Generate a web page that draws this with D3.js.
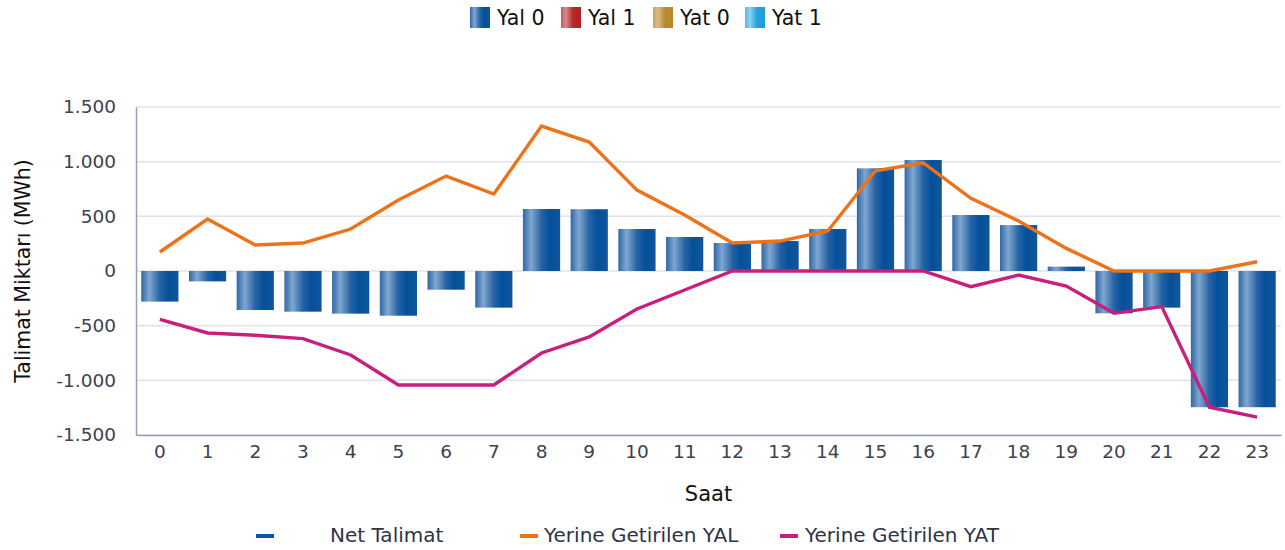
<!DOCTYPE html>
<html>
<head>
<meta charset="utf-8">
<script src="https://cdn.jsdelivr.net/npm/d3@7"></script>
<style>
  body { margin: 0; background: #fff; }
  svg { display: block; }
</style>
</head>
<body>
<svg></svg>
<script>
var w = 1285,
    h = 550;

// hours 0..23
var hours = d3.range(0, 24).map(String);

// Net Talimat (bars)
var netTalimat = [-280, -95, -357, -372, -390, -409, -171, -335, 567, 565, 384, 311,
                  256, 274, 384, 939, 1015, 512, 420, 40, -387, -335, -1246, -1246];

// Yerine Getirilen YAL (orange line)
var yal = [174, 475, 238, 256, 384, 649, 868, 704, 1325, 1179, 740, 512,
           256, 274, 366, 917, 990, 664, 457, 207, 0, 0, 0, 85];

// Yerine Getirilen YAT (magenta line)
var yat = [-442, -567, -588, -619, -768, -1042, -1042, -1042, -750, -603, -347, -174,
           0, 0, 0, 0, 0, -143, -37, -137, -387, -326, -1246, -1337];

var yTicks = [-1500, -1000, -500, 0, 500, 1000, 1500];

var topLegend = ["Yal 0", "Yal 1", "Yat 0", "Yat 1"];
var bottomLegend = ["Net Talimat", "Yerine Getirilen YAL", "Yerine Getirilen YAT"];

var margin = {left: 136, right: 4, top: 107, bottom: 115};
var font = "DejaVu Sans, Verdana, sans-serif";

var svg = d3.select("svg")
  .attr("width", w)
  .attr("height", h);

var defs = svg.append("defs");

function gradient(id, stops) {
  var g = defs.append("linearGradient")
    .attr("id", id)
    .attr("x1", "0%").attr("x2", "100%")
    .attr("y1", "0%").attr("y2", "0%");
  stops.forEach(function(s) {
    g.append("stop").attr("offset", s[0]).attr("stop-color", s[1]);
  });
}

gradient("gBlue", [["0%", "#2f67a6"], ["22%", "#80a7d0"], ["50%", "#2663a5"], ["72%", "#04509b"], ["100%", "#115699"]]);
gradient("gRed", [["0%", "#c25a5a"], ["25%", "#d88a8a"], ["60%", "#b52828"], ["100%", "#b22222"]]);
gradient("gGold", [["0%", "#c9a055"], ["25%", "#dcbd86"], ["60%", "#b98a2e"], ["100%", "#b8862a"]]);
gradient("gCyan", [["0%", "#5ab8e6"], ["25%", "#8ed0f0"], ["60%", "#22a2de"], ["100%", "#1e9cd8"]]);

var x = d3.scaleBand()
  .domain(hours)
  .range([margin.left, w - margin.right])
  .paddingInner(0.22)
  .paddingOuter(0.11);

var y = d3.scaleLinear()
  .domain([-1500, 1500])
  .range([h - margin.bottom, margin.top]);

// grid
svg.append("g")
  .selectAll("line")
  .data(yTicks)
  .enter()
  .append("line")
  .attr("x1", margin.left)
  .attr("x2", w - margin.right)
  .attr("y1", function(d){ return y(d); })
  .attr("y2", function(d){ return y(d); })
  .attr("stroke", "#e2e2ea")
  .attr("stroke-width", 1.5);

// bars
svg.append("g")
  .selectAll("rect")
  .data(netTalimat)
  .enter()
  .append("rect")
  .attr("x", function(d, i){ return x(hours[i]); })
  .attr("width", x.bandwidth())
  .attr("y", function(d){ return y(Math.max(0, d)); })
  .attr("height", function(d){ return Math.abs(y(d) - y(0)); })
  .attr("fill", "url(#gBlue)");

// lines
var line = d3.line()
  .x(function(d, i){ return x(hours[i]) + x.bandwidth() / 2; })
  .y(function(d){ return y(d); });

svg.append("path")
  .datum(yal)
  .attr("d", line)
  .attr("fill", "none")
  .attr("stroke", "#ee7219")
  .attr("stroke-width", 3.4);

svg.append("path")
  .datum(yat)
  .attr("d", line)
  .attr("fill", "none")
  .attr("stroke", "#c81f7f")
  .attr("stroke-width", 3.4);

// axes - thousands with "." and plain hyphen for negatives
var fmt = function(d){ return d3.format(",")(d).replace(/,/g, ".").replace("\u2212", "-"); };

var yAxis = svg.append("g")
  .attr("transform", "translate(" + margin.left + ",0)")
  .call(d3.axisLeft(y).tickValues(yTicks).tickSize(0).tickPadding(20).tickFormat(fmt));
yAxis.select(".domain").attr("stroke", "#9a9cbc").attr("stroke-width", 1.5);
yAxis.selectAll("text")
  .attr("font-family", font)
  .attr("font-size", 18.5)
  .attr("fill", "#3d4150");

var xAxis = svg.append("g")
  .attr("transform", "translate(0," + (h - margin.bottom) + ")")
  .call(d3.axisBottom(x).tickSize(0).tickPadding(10));
xAxis.select(".domain").attr("stroke", "#9a9cbc").attr("stroke-width", 1.5);
xAxis.selectAll("text")
  .attr("font-family", font)
  .attr("font-size", 18.5)
  .attr("fill", "#3d4150");

// axis titles
svg.append("text")
  .attr("x", (margin.left + w - margin.right) / 2)
  .attr("y", 501)
  .attr("text-anchor", "middle")
  .attr("font-family", font)
  .attr("font-size", 21)
  .attr("fill", "#111")
  .text("Saat");

svg.append("text")
  .attr("transform", "translate(30," + y(0) + ") rotate(-90)")
  .attr("text-anchor", "middle")
  .attr("font-family", font)
  .attr("font-size", 20.5)
  .attr("fill", "#111")
  .text("Talimat Miktarı (MWh)");

// top legend
var topFills = ["url(#gBlue)", "url(#gRed)", "url(#gGold)", "url(#gCyan)"];
var topX = [470, 561, 653, 745];
var tl = svg.append("g")
  .selectAll("g")
  .data(topLegend)
  .enter()
  .append("g")
  .attr("transform", function(d, i){ return "translate(" + topX[i] + ",7)"; });
tl.append("rect")
  .attr("width", 20)
  .attr("height", 21)
  .attr("fill", function(d, i){ return topFills[i]; });
tl.append("text")
  .attr("x", 27)
  .attr("y", 18)
  .attr("font-family", font)
  .attr("font-size", 20.5)
  .attr("fill", "#111")
  .text(function(d){ return d; });

// bottom legend
var botColors = ["#0b58a0", "#ee7219", "#c81f7f"];
var botDash = [256, 520, 780];
var botText = [330, 544, 805];
var bl = svg.append("g")
  .selectAll("g")
  .data(bottomLegend)
  .enter()
  .append("g");
bl.append("rect")
  .attr("x", function(d, i){ return botDash[i]; })
  .attr("y", 534)
  .attr("width", 18)
  .attr("height", 4)
  .attr("fill", function(d, i){ return botColors[i]; });
bl.append("text")
  .attr("x", function(d, i){ return botText[i]; })
  .attr("y", 542)
  .attr("font-family", font)
  .attr("font-size", 20)
  .attr("fill", "#2e3346")
  .text(function(d){ return d; });
</script>
</body>
</html>
